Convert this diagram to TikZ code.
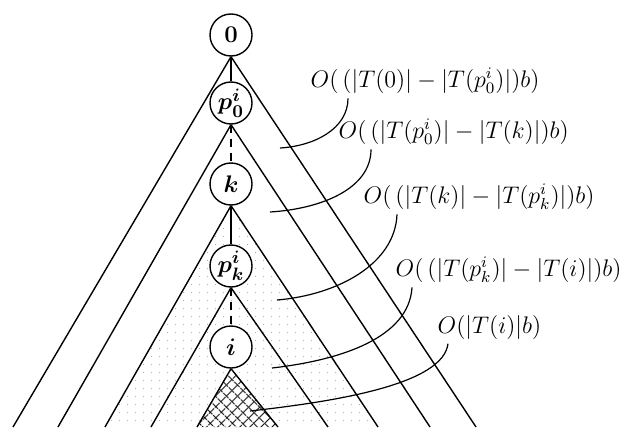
\documentclass[tikz,border=0pt]{standalone}
\usepackage{amsmath,amssymb}
\usetikzlibrary{patterns.meta,backgrounds}
\begin{document}
\begin{tikzpicture}[x=0.5pt, y=-0.5pt, line width=0.7pt,
    vertex/.style={draw, circle, minimum size=21pt, inner sep=0pt, fill=white,
      font=\fontsize{13}{15}\selectfont},
    cost/.style={anchor=west, inner sep=0pt, font=\fontsize{11.5}{13}\selectfont},
    link/.style={line width=0.6pt}]
    % Picture frame (the trees run out of the bottom edge)
    \useasboundingbox (0,0) rectangle (624,427);
    \clip (0,0) rectangle (624,427);

    % Nodes on the path from the root to i
    \node[vertex] (root) at (231,35)  {$\mathbf{0}$};
    \node[vertex] (pz)   at (231,103) {$\boldsymbol{p^i_0}$};
    \node[vertex] (kk)   at (231,184) {$\boldsymbol{k}$};
    \node[vertex] (pk)   at (231,266) {$\boldsymbol{p^i_k}$};
    \node[vertex] (ii)   at (231,347) {$\boldsymbol{i}$};

    % Feet of the subtrees
    \coordinate (rootL) at (13,427);  \coordinate (rootR) at (476,427);
    \coordinate (pzL)   at (58,427);  \coordinate (pzR)   at (430,427);
    \coordinate (kkL)   at (105,427); \coordinate (kkR)   at (378,427);
    \coordinate (pkL)   at (151,427); \coordinate (pkR)   at (328,427);
    \coordinate (iiL)   at (197,427); \coordinate (iiR)   at (278,427);

    % Shading of T(k) and T(i)
    \begin{scope}[on background layer]
      \fill[pattern={Dots[radius=0.3pt, distance=4pt]}, pattern color=black!35]
        (kk.south) -- (kkL) -- (kkR) -- cycle;
      \fill[white] (ii.south) -- (iiL) -- (iiR) -- cycle;
      \fill[pattern={Lines[angle=45, distance=4pt, line width=0.5pt]}]
        (ii.south) -- (iiL) -- (iiR) -- cycle;
      \fill[pattern={Lines[angle=-45, distance=4pt, line width=0.5pt]}]
        (ii.south) -- (iiL) -- (iiR) -- cycle;
    \end{scope}

    % Sides of the subtrees
    \foreach \n in {root, pz, kk, pk, ii}
      \draw (\n.south) -- (\n L) (\n.south) -- (\n R);

    % Path between the nodes
    \draw[link] (root) -- (pz);
    \draw[link, line width=1pt, dash pattern=on 4pt off 3pt] (pz) -- (kk);
    \draw[link] (kk) -- (pk);
    \draw[link, line width=1pt, dash pattern=on 4pt off 3pt] (pk) -- (ii);

    % Costs of the layers
    \node[cost] (lbA) at (310,81)  {$O(\,(|T(0)|-|T(p^i_0)|)b)$};
    \node[cost] (lbB) at (338,132) {$O(\,(|T(p^i_0)|-|T(k)|)b)$};
    \node[cost] (lbC) at (363,197) {$O(\,(|T(k)|-|T(p^i_k)|)b)$};
    \node[cost] (lbD) at (395,270) {$O(\,(|T(p^i_k)|-|T(i)|)b)$};
    \node[cost] (lbE) at (437,327) {$O(|T(i)|b)$};

    % Where the arcs end
    \coordinate (eA) at (280,148);
    \coordinate (eB) at (270,212);
    \coordinate (eC) at (277,300);
    \coordinate (eD) at (272,368);
    \coordinate (eE) at (250,411);

    % Arcs from the costs into their layers
    \draw[link] ([xshift=19pt, yshift=-2pt]lbA.south west) .. controls +(0,30) and +(35,-2) .. (eA);
    \draw[link] ([xshift=16.5pt, yshift=-2pt]lbB.south west) .. controls +(0,40) and +(50,-3) .. (eB);
    \draw[link] ([xshift=17pt, yshift=-2pt]lbC.south west) .. controls +(-2,50) and +(60,-5) .. (eC);
    \draw[link] ([xshift=8.5pt, yshift=-2pt]lbD.south west) .. controls +(-3,50) and +(70,-8) .. (eD);
    \draw[link] ([xshift=5.5pt, yshift=-2pt]lbE.south west) .. controls +(-5,40) and +(90,-10) .. (eE);

\end{tikzpicture}
\end{document}
